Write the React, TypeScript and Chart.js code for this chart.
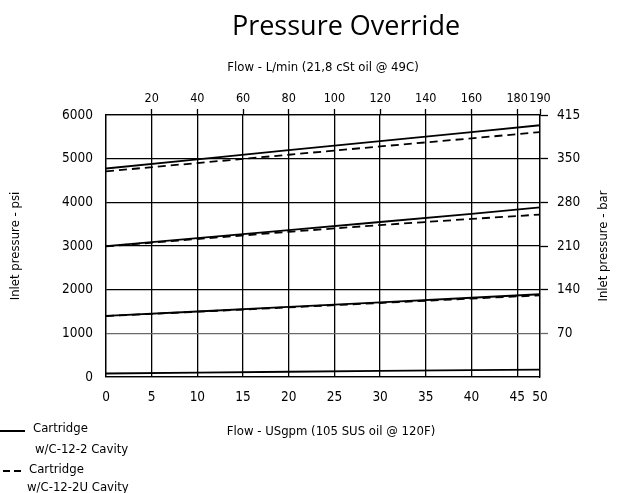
import React, { useEffect, useRef } from 'react';
import { Chart, registerables } from 'chart.js';

Chart.register(...registerables);

// ---------- data (x in L/min, y in psi) ----------
const flowLpm = [0, 40, 80, 120, 160, 190];
const highSolid = [4775, 4985, 5195, 5400, 5610, 5765];
const highDashed = [4710, 4900, 5090, 5280, 5465, 5610];
const midSolid = [2995, 3180, 3365, 3550, 3735, 3885];
const midDashed = [2990, 3160, 3325, 3480, 3620, 3720];
const lowSolid = [1400, 1500, 1605, 1710, 1815, 1895];
const lowDashed = [1395, 1495, 1595, 1695, 1795, 1870];
const zeroSolid = [80, 100, 120, 140, 158, 170];

const topTickValues = [20, 40, 60, 80, 100, 120, 140, 160, 180, 190];
const topTickLabels = ['20', '40', '60', '80', '100', '120', '140', '160', '180', '190'];
const bottomTickValues = [0, 20, 40, 60, 80, 100, 120, 140, 160, 180, 190];
const bottomTickLabels = ['0', '5', '10', '15', '20', '25', '30', '35', '40', '45', '50'];
const psiTicks = [0, 1000, 2000, 3000, 4000, 5000, 6000];
const barTickLabels = ['', '70', '140', '210', '280', '350', '415'];

const legendSolid = ['Cartridge', 'w/C-12-2 Cavity'];
const legendDashed = ['Cartridge', 'w/C-12-2U Cavity'];

const TITLE = 'Pressure Override';
const TOP_TITLE = 'Flow - L/min (21,8 cSt oil @ 49C)';
const BOTTOM_TITLE = 'Flow - USgpm (105 SUS oil @ 120F)';
const LEFT_TITLE = 'Inlet pressure - psi';
const RIGHT_TITLE = 'Inlet pressure - bar';

const COND = "'DejaVu Sans Condensed', 'DejaVu Sans', sans-serif";
const TITLE_FONT = "'Open Sans', 'Liberation Sans', sans-serif";
const TICK_SIZE = 13.5;
const TOP_TICK_SIZE = 12.5;
const TEXT_SIZE = 13;

const pts = (ys: number[]) => ys.map((y, i) => ({ x: flowLpm[i], y }));

const solid = (ys: number[], label: string) => ({
  label,
  data: pts(ys),
  borderColor: '#000',
  borderWidth: 1.8,
  pointRadius: 0,
  fill: false,
  tension: 0,
});
const dashed = (ys: number[], label: string) => ({
  label,
  data: pts(ys),
  borderColor: '#000',
  borderWidth: 1.8,
  borderDash: [8, 5],
  pointRadius: 0,
  fill: false,
  tension: 0,
});

const extrasPlugin = {
  id: 'extras',
  afterDraw(chart: any) {
    const ctx = chart.ctx as CanvasRenderingContext2D;
    ctx.save();
    ctx.fillStyle = '#000';
    ctx.strokeStyle = '#000';

    // main title
    ctx.font = `27px ${TITLE_FONT}`;
    ctx.textAlign = 'center';
    ctx.textBaseline = 'alphabetic';
    ctx.fillText(TITLE, 346, 35);

    ctx.font = `${TEXT_SIZE}px ${COND}`;
    ctx.textBaseline = 'middle';

    // bottom axis title (centred slightly right of the plot centre, as in the source)
    ctx.textAlign = 'center';
    ctx.fillText(BOTTOM_TITLE, 331, 432);

    ctx.textAlign = 'left';
    // legend: solid
    ctx.lineWidth = 2;
    ctx.setLineDash([]);
    ctx.beginPath();
    ctx.moveTo(0, 431);
    ctx.lineTo(25, 431);
    ctx.stroke();
    ctx.fillText(legendSolid[0], 33, 429);
    ctx.fillText(legendSolid[1], 35, 450);
    // legend: dashed
    ctx.setLineDash([7, 4]);
    ctx.beginPath();
    ctx.moveTo(3, 471);
    ctx.lineTo(21, 471);
    ctx.stroke();
    ctx.setLineDash([]);
    ctx.fillText(legendDashed[0], 29, 470);
    ctx.fillText(legendDashed[1], 27, 488);

    // right axis title (reads bottom-to-top)
    const a = chart.chartArea;
    ctx.translate(604, (a.top + a.bottom) / 2);
    ctx.rotate(-Math.PI / 2);
    ctx.textAlign = 'center';
    ctx.fillText(RIGHT_TITLE, 0, 0);
    ctx.restore();
  },
};

export default function App() {
  const ref = useRef<HTMLCanvasElement>(null);
  useEffect(() => {
    if (!ref.current) return;
    const chart = new Chart(ref.current, {
      type: 'line',
      data: {
        datasets: [
          solid(highSolid, 'C-12-2 high'),
          dashed(highDashed, 'C-12-2U high'),
          solid(midSolid, 'C-12-2 mid'),
          dashed(midDashed, 'C-12-2U mid'),
          solid(lowSolid, 'C-12-2 low'),
          dashed(lowDashed, 'C-12-2U low'),
          solid(zeroSolid, 'C-12-2 min'),
        ],
      },
      options: {
        responsive: false,
        animation: false,
        devicePixelRatio: 1,
        layout: { padding: 0 },
        plugins: {
          legend: { display: false },
          tooltip: { enabled: false },
          title: { display: false },
        },
        scales: {
          x: {
            type: 'linear',
            position: 'bottom',
            min: 0,
            max: 190,
            afterBuildTicks: (s: any) => {
              s.ticks = bottomTickValues.map((v) => ({ value: v }));
            },
            afterFit: (s: any) => {
              s.height = 116;
            },
            ticks: {
              color: '#000',
              font: { family: COND, size: TICK_SIZE },
              padding: 12,
              maxRotation: 0,
              autoSkip: false,
              callback: (v: any) => {
                const i = bottomTickValues.indexOf(Number(v));
                return i >= 0 ? bottomTickLabels[i] : '';
              },
            },
            grid: {
              color: '#000',
              lineWidth: 1.3,
              drawTicks: false,
            },
            border: { display: true, color: '#000', width: 1.3 },
            title: { display: false },
          },
          x2: {
            type: 'linear',
            position: 'top',
            min: 0,
            max: 190,
            afterBuildTicks: (s: any) => {
              s.ticks = topTickValues.map((v) => ({ value: v }));
            },
            afterFit: (s: any) => {
              s.height = 115;
            },
            ticks: {
              color: '#000',
              font: { family: COND, size: TOP_TICK_SIZE },
              padding: 3,
              maxRotation: 0,
              autoSkip: false,
              callback: (v: any) => {
                const i = topTickValues.indexOf(Number(v));
                return i >= 0 ? topTickLabels[i] : '';
              },
            },
            grid: {
              drawOnChartArea: false,
              drawTicks: true,
              tickLength: 6,
              tickColor: '#000',
              tickWidth: 1.3,
            },
            border: { display: true, color: '#000', width: 1.3 },
            title: {
              display: true,
              text: TOP_TITLE,
              color: '#000',
              font: { family: COND, size: TEXT_SIZE },
              padding: { top: 60, bottom: 0 },
            },
          },
          y: {
            type: 'linear',
            position: 'left',
            min: 0,
            max: 6000,
            afterBuildTicks: (s: any) => {
              s.ticks = psiTicks.map((v) => ({ value: v }));
            },
            afterFit: (s: any) => {
              s.width = 106;
            },
            ticks: {
              color: '#000',
              font: { family: COND, size: TICK_SIZE },
              padding: 13,
              callback: (v: any) => String(v),
            },
            grid: {
              color: (c: any) => (c.tick && c.tick.value === 1000 ? '#6a6a6a' : '#000'),
              lineWidth: 1.3,
              drawTicks: false,
            },
            border: { display: true, color: '#000', width: 1.3 },
            title: {
              display: true,
              text: LEFT_TITLE,
              color: '#000',
              font: { family: COND, size: TEXT_SIZE },
              padding: { top: 8, bottom: 0 },
            },
          },
          y2: {
            type: 'linear',
            position: 'right',
            min: 0,
            max: 6000,
            afterBuildTicks: (s: any) => {
              s.ticks = psiTicks.map((v) => ({ value: v }));
            },
            afterFit: (s: any) => {
              s.width = 79;
            },
            ticks: {
              color: '#000',
              font: { family: COND, size: TICK_SIZE },
              padding: 9,
              callback: (v: any) => {
                const i = psiTicks.indexOf(Number(v));
                return i >= 0 ? barTickLabels[i] : '';
              },
            },
            grid: {
              drawOnChartArea: false,
              drawTicks: true,
              tickLength: 8,
              tickColor: (c: any) =>
                c.tick && c.tick.value === 0 ? 'rgba(0,0,0,0)' : c.tick && c.tick.value === 1000 ? '#6a6a6a' : '#000',
              tickWidth: 1.3,
            },
            border: { display: true, color: '#000', width: 1.3 },
          },
        },
      } as any,
      plugins: [extrasPlugin],
    });
    return () => chart.destroy();
  }, []);

  return (
    <div style={{ position: 'absolute', left: 0, top: 0, width: 619, height: 493, background: '#fff' }}>
      <canvas ref={ref} width={619} height={493} style={{ display: 'block', width: 619, height: 493 }} />
    </div>
  );
}
